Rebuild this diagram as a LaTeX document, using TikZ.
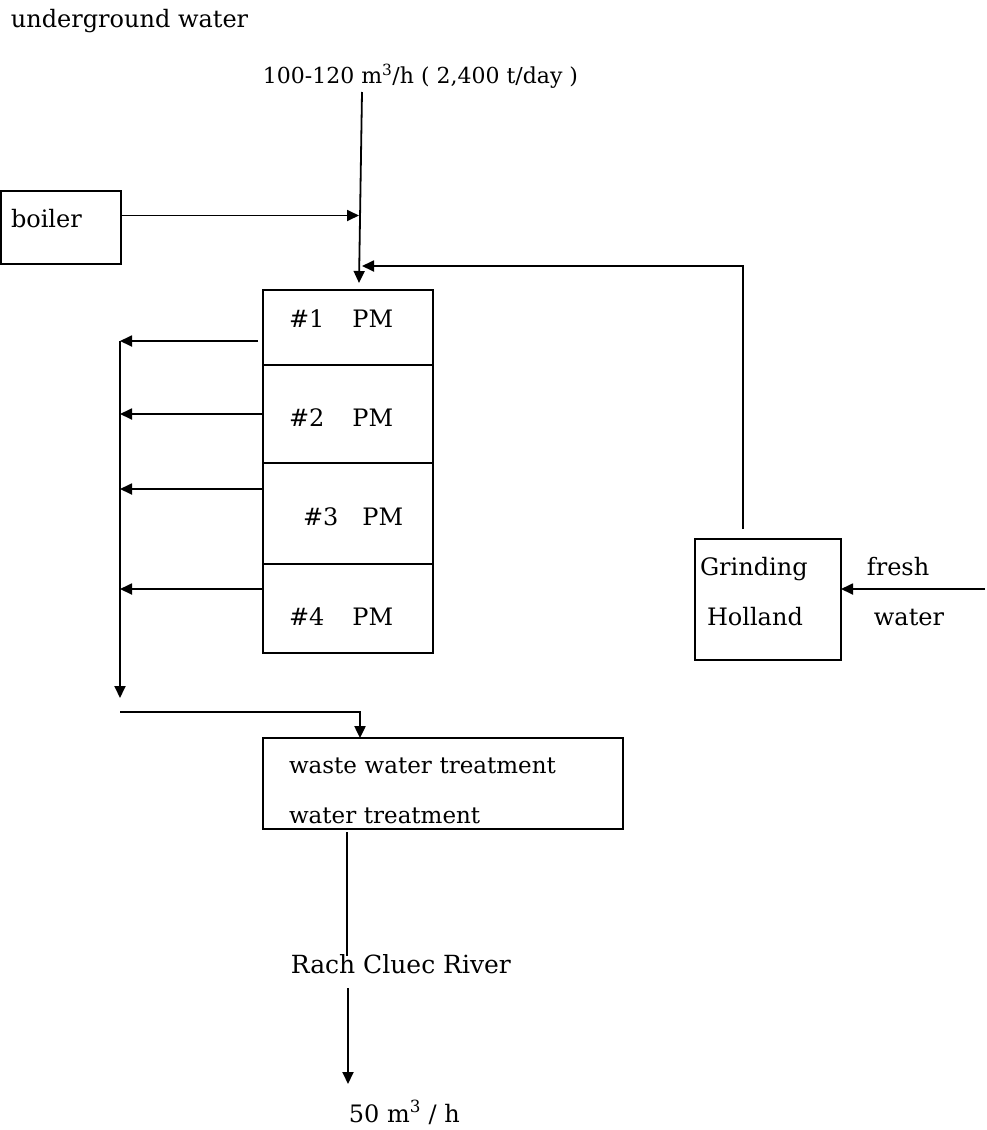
\documentclass[tikz,border=0pt]{standalone}
\usepackage{fontspec}
\setmainfont{DejaVu Serif}
\usepackage{tikz}
\usetikzlibrary{arrows.meta,positioning}

\begin{document}
\begin{tikzpicture}[x=1pt,y=-1pt,line width=1.8pt,
  every node/.style={font=\fontsize{24}{50}\selectfont,inner sep=0pt},
  box/.style={draw,line width=2.4pt,inner ysep=0pt,outer sep=0pt,align=left,anchor=north west},
  arr/.style={-{Triangle[length=12pt,width=11pt]}}]
\useasboundingbox (0,0) rectangle (986,1130);
% labels
\node[anchor=base west] (src) at (10,27) {underground water};
\node[anchor=base west,font=\fontsize{22}{26}\selectfont] (flow) at (262,83) {100-120 m\textsuperscript{3}/h ( 2,400 t/day )};
% boxes
\node[box,inner xsep=10pt,text width=100pt,text height=36pt,text depth=37pt] (boiler) at (1,191) {boiler};
\node[box,inner xsep=26pt,text width=118pt,text height=37pt,text depth=38pt] (pm1) at (263,290) {\#1\hspace{28pt}PM};
\node[box,inner xsep=26pt,text width=118pt,text height=61pt,text depth=37pt,below=0pt of pm1] (pm2) {\#2\hspace{28pt}PM};
\node[box,inner xsep=26pt,text width=118pt,text height=62pt,text depth=39pt,below=0pt of pm2] (pm3) {\hspace*{14pt}\#3\hspace{24pt}PM};
\node[box,inner xsep=26pt,text width=118pt,text height=61pt,text depth=28pt,below=0pt of pm3] (pm4) {\#4\hspace{28pt}PM};
\node[box,inner xsep=5pt,text width=136pt,text height=36pt,text depth=85pt] (grind) at (695,539) {Grinding\\\hspace*{7pt}Holland};
\node[box,inner xsep=26pt,text width=308pt,text height=35pt,text depth=56pt,font=\fontsize{23}{50}\selectfont] (waste) at (263,738) {waste water treatment\\water treatment};
\node[anchor=base west] (fresh) at (866,575) {fresh};
\node[anchor=base west] (freshw) at (873,625) {water};
\node[anchor=base west,font=\fontsize{25}{30}\selectfont] (river) at (290,973) {Rach Cluec River};
\node[anchor=base west] (dis) at (348,1122) {50 m\textsuperscript{3} / h};
% free ends
\coordinate (intop) at (362,92);
\coordinate (feed) at (359,283);
\coordinate (ret) at (362,266);
\coordinate (ctop) at (120,341);
\coordinate (cbot) at (120,698);
\coordinate (join) at (120,712);
\coordinate (rc) at (347,956);
\coordinate (rtop) at (348,988);
\coordinate (rbot) at (348,1084);
\coordinate (fw) at (985,589);
\coordinate (bo) at ([yshift=12pt]boiler.east);
% flows
\draw[arr] (intop) -- (feed);
\draw[arr] (bo) -- (bo -| feed);
\draw[arr] ([xshift=-25pt,yshift=10pt]grind.north) |- (ret);
\foreach \n/\dx/\dy in {1/-5/-13.5,2/0/0,3/0/24.5,4/0/19.5}
  \draw[arr] ([xshift=\dx pt,yshift=\dy pt]pm\n.west) -- ([yshift=\dy pt]pm\n.west -| ctop);
\draw[arr] (ctop) -- (cbot);
\draw[arr,line width=2.4pt] (join) -| ([xshift=-83pt]waste.north);
\draw[line width=2.8pt] ([xshift=-96pt,yshift=-3pt]waste.south) -- (rc);
\draw[arr] (rtop) -- (rbot);
\draw[arr] (fw) -- (fw -| grind.east);
\end{tikzpicture}
\end{document}
